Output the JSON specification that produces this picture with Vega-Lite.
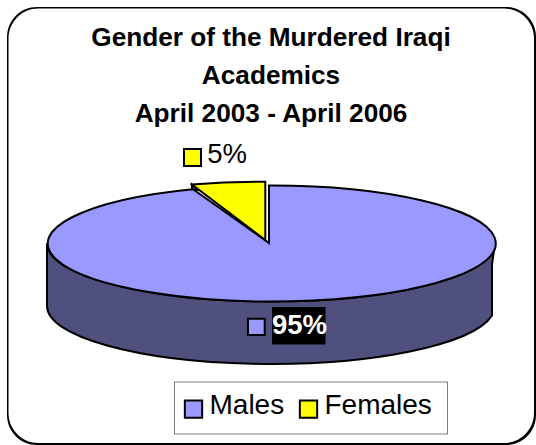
{"$schema":"https://vega.github.io/schema/vega-lite/v6.json","width":536,"height":445,"padding":0,"autosize":{"type":"none"},"background":"white","config":{"view":{"stroke":null},"font":"Liberation Sans"},
"title":{"text":["Gender of the Murdered Iraqi","Academics","April 2003 - April 2006"],"font":"Liberation Sans","fontSize":26.2,"fontWeight":"bold","color":"black","lineHeight":38,"anchor":"middle","frame":"group","orient":"top","baseline":"alphabetic","offset":-148,"dx":3},
"datasets":{"frame":[{"part":"Frame shadow"},{"part":"Frame"},{"part":"Legend border"},{"part":"Legend"}],
"slices":[{"gender":"Males","share":95,"part":"Males side"},{"gender":"Females","share":5,"part":"Females side"},{"gender":"Males","share":95,"part":"Males top"},{"gender":"Females","share":5,"part":"Females top"},{"gender":"Males","share":95,"part":"Males label box"}],
"labels":[{"gender":"Males","share":95,"label":"95%"},{"gender":"Females","share":5,"label":"5%"}]},
"resolve":{"scale":{"shape":"independent","fill":"independent","color":"independent"},"legend":{"color":"independent"}},
"layer":[
{"data":{"name":"frame"},"mark":{"type":"point","filled":true,"opacity":1,"strokeWidth":0,"size":4},"encoding":{"shape":{"field":"part","legend":null,"sort":null,"scale":{"domain":["Frame shadow","Frame","Legend border","Legend"],"range":["M-231,-215.5 H238 A30,30 0 0 1 268,-185.5 V192.5 A30,30 0 0 1 238,222.5 H-231 A30,30 0 0 1 -261,192.5 V-185.5 A30,30 0 0 1 -231,-215.5 Z","M-229.5,-214 H236 A30,30 0 0 1 266,-184 V190.5 A30,30 0 0 1 236,220.5 H-229.5 A30,30 0 0 1 -259.5,190.5 V-184 A30,30 0 0 1 -229.5,-214 Z","M-94,159 H180 V212 H-94 Z","M-93,160 H179 V211 H-93 Z"]}},"fill":{"field":"part","legend":null,"sort":null,"scale":{"domain":["Frame shadow","Frame","Legend border","Legend"],"range":["black","white","#7f7f7f","white"]}}}},
{"data":{"name":"slices"},"mark":{"type":"point","filled":true,"opacity":1,"stroke":"black","strokeWidth":2,"size":4},"encoding":{"shape":{"field":"part","legend":null,"scale":{"domain":["Males side","Females side","Males top","Females top","Males label box"],"range":["M-221,21 A224,58 0 0 0 227,21 L224,42 V93 A224,58 0 0 1 -221,83.5 Z","M-76,-38 V-32 L-70,-32.5 Z","M1,20.5 L1,-37 A224,58 0 1 1 -75,-33.3 Z","M-2.7,17.5 L-2.7,-40.7 A224,58 0 0 0 -76,-38 Z","M5,85.5 H56.5 V121 H5 Z"]}},"fill":{"field":"part","legend":null,"scale":{"domain":["Males side","Females side","Males top","Females top","Males label box"],"range":["#50507F","#50507F","#9999FF","#FFFF00","black"]}}}},
{"data":{"name":"labels"},"mark":{"type":"point","filled":true,"opacity":1,"stroke":"black","strokeWidth":2,"size":4},"encoding":{"shape":{"field":"label","legend":null,"scale":{"domain":["95%","5%"],"range":["M-20,96.2 H-3.3 V112.5 H-20 Z","M-84,-73.5 H-67 V-56.5 H-84 Z"]}},"color":{"field":"gender","scale":{"domain":["Males","Females"],"range":["#9999FF","#FFFF00"]},"legend":{"title":null,"orient":"none","legendX":179.5,"legendY":395,"direction":"horizontal","symbolType":"square","symbolSize":300,"symbolStrokeColor":"black","symbolStrokeWidth":2,"symbolOpacity":1,"labelFont":"Liberation Sans","labelFontSize":28,"labelColor":"black","labelOffset":2,"columnPadding":10,"padding":0,"encode":{"labels":{"update":{"dy":{"value":-3}}}}}}}},
{"data":{"name":"labels"},"transform":[{"filter":"datum.gender==='Males'"}],"mark":{"type":"text","dx":31.5,"dy":111.5,"baseline":"alphabetic","align":"center","fontSize":27.5,"fontWeight":"bold","color":"white","font":"Liberation Sans"},"encoding":{"text":{"field":"label"}}},
{"data":{"name":"labels"},"transform":[{"filter":"datum.gender==='Females'"}],"mark":{"type":"text","dx":-41,"dy":-59.5,"baseline":"alphabetic","align":"center","fontSize":27.5,"color":"black","font":"Liberation Sans"},"encoding":{"text":{"field":"label"}}}
]}
